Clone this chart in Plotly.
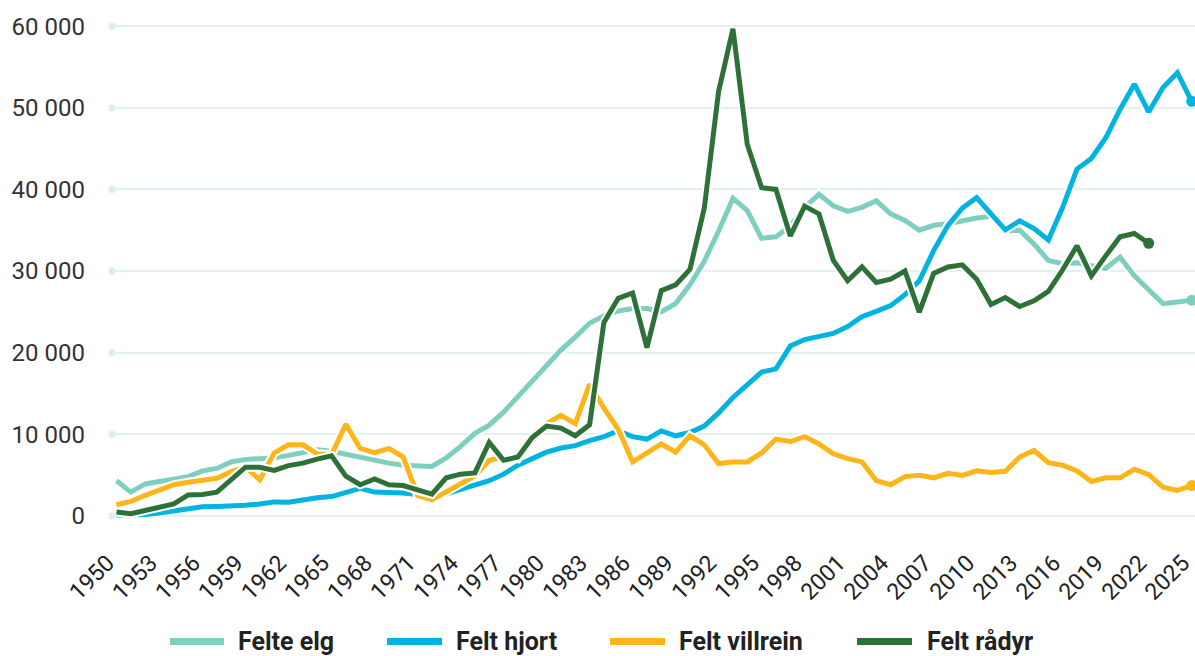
import plotly.graph_objects as go

years = list(range(1950, 2026))
years_radyr = list(range(1950, 2023))

elg = [4300, 2900, 3900, 4200, 4500, 4800, 5500, 5800, 6600, 6900,
       7000, 7100, 7400, 7800, 8100, 7900, 7500, 7100, 6700, 6450,
       6200, 6050, 6050, 7100, 8500, 10100, 11100, 12700, 14600, 16500,
       18400, 20300, 21900, 23600, 24500, 25100, 25400, 25400, 25000, 26000,
       28300, 31200, 34900, 38900, 37400, 34000, 34200, 35500, 37800, 39400,
       38000, 37300, 37800, 38600, 37000, 36200, 35000, 35600, 35800, 36200,
       36500, 36700, 34900, 35000, 33300, 31300, 30900, 31000, 30600, 30300,
       31700, 29400, 27700, 26000, 26200, 26400]

hjort = [100, 100, 150, 350, 650, 950, 1100, 1150, 1150, 1300,
         1450, 1700, 1650, 1950, 2200, 2350, 2900, 3350, 2900, 2900,
         2800, 2600, 2300, 2700, 3200, 3700, 4300, 5100, 6200, 7000,
         7800, 8300, 8600, 9200, 9700, 10400, 9700, 9400, 10400, 9800,
         10200, 11000, 12600, 14500, 16100, 17600, 18000, 20800, 21600, 21950,
         22350, 23200, 24400, 25050, 25750, 27100, 28800, 32500, 35600, 37700,
         39000, 37000, 35050, 36150, 35200, 33800, 37800, 42500, 43800, 46300,
         49800, 52900, 49500, 52500, 54300, 50800]

villrein = [1350, 1750, 2500, 3100, 3800, 4100, 4300, 4600, 5400, 6000,
            4400, 7700, 8700, 8700, 7600, 7500, 11200, 8250, 7750, 8250,
            7200, 2500, 1950, 2900, 3800, 4900, 6800, 7200, 7000, 9200,
            11300, 12300, 11300, 16100, 13200, 10600, 6600, 7700, 8800, 7800,
            9800, 8700, 6400, 6600, 6600, 7700, 9400, 9100, 9700, 8800,
            7600, 7000, 6600, 4300, 3800, 4800, 4950, 4650, 5200, 4950,
            5500, 5300, 5450, 7200, 8000, 6500, 6200, 5500, 4200, 4650,
            4650, 5700, 5050, 3500, 3100, 3700]

radyr = [450, 250, 650, 1050, 1450, 2550, 2600, 2900, 4500, 5950,
         5950, 5550, 6150, 6450, 6950, 7350, 4850, 3800, 4500, 3800,
         3700, 3100, 2650, 4650, 5100, 5250, 9000, 6800, 7200, 9600,
         11000, 10750, 9800, 11150, 23700, 26650, 27300, 20600, 27600, 28300,
         30200, 37700, 52000, 59700, 45500, 40200, 40000, 34300, 37950, 37000,
         31300, 28800, 30500, 28600, 29000, 30000, 24950, 29700, 30500, 30750,
         29000, 25900, 26750, 25650, 26350, 27500, 30150, 33100, 29400, 31850,
         34200, 34600, 33400]

series_names = ["Felte elg", "Felt hjort", "Felt villrein", "Felt rådyr"]
series_colors = ["#7fcfbf", "#00b3e1", "#fdb51a", "#2d7139"]
series_x = [years, years, years, years_radyr]
series_y = [elg, hjort, villrein, radyr]

y_tickvals = [0, 10000, 20000, 30000, 40000, 50000, 60000]
y_ticktext = ["0", "10 000", "20 000", "30 000", "40 000", "50 000", "60 000"]
x_tickvals = list(range(1950, 2026, 3))
x_ticktext = [str(v) for v in x_tickvals]

W, H = 1195, 656
L, R = 112, 0
T, B = 13.77, 128.47
grid_color = "#e1f2ee"
FONT = "Roboto, 'Open Sans', sans-serif"

fig = go.Figure()
for name, col, xs, ys in zip(series_names, series_colors, series_x, series_y):
    fig.add_trace(go.Scatter(x=xs, y=ys, mode="lines",
                             line=dict(color="white", width=9),
                             hoverinfo="skip", showlegend=False))
    fig.add_trace(go.Scatter(x=xs, y=ys, mode="lines", name=name,
                             line=dict(color=col, width=5),
                             showlegend=False))
    fig.add_trace(go.Scatter(x=[xs[-1]], y=[ys[-1]], mode="markers",
                             marker=dict(color=col, size=11),
                             hoverinfo="skip", showlegend=False))

# gridline start dots
shapes = []
for v in y_tickvals:
    shapes.append(dict(type="circle", xref="paper", yref="y",
                       xsizemode="pixel", ysizemode="pixel",
                       xanchor=0, yanchor=v, x0=-3.5, x1=3.5, y0=-3.5, y1=3.5,
                       fillcolor="#d8eee8", line=dict(width=0), layer="below"))

# manual legend
plot_w = W - L - R
plot_h = H - T - B
def px_x(px):
    return (px - L) / plot_w
def px_y(py):
    return (H - B - py) / plot_h

legend_line_x = [(170, 224), (387, 442), (610, 665), (857, 912)]
legend_text_x = [236, 454, 677, 925]
ly = 641
annotations = []
for (x0, x1), tx, name, col in zip(legend_line_x, legend_text_x, series_names, series_colors):
    shapes.append(dict(type="line", xref="paper", yref="paper",
                       x0=px_x(x0), x1=px_x(x1), y0=px_y(ly), y1=px_y(ly),
                       line=dict(color=col, width=7)))
    annotations.append(dict(xref="paper", yref="paper", x=px_x(tx), y=px_y(ly),
                            xanchor="left", yanchor="middle", showarrow=False,
                            text="<b>" + name + "</b>",
                            font=dict(family=FONT, size=25, color="#222222")))

fig.update_layout(
    width=W, height=H,
    margin=dict(l=L, r=R, t=T, b=B, pad=0, autoexpand=False),
    paper_bgcolor="white", plot_bgcolor="white",
    showlegend=False,
    shapes=shapes, annotations=annotations,
    xaxis=dict(range=[1949.686, 2025.23], tickvals=x_tickvals, ticktext=x_ticktext,
               tickangle=-45, showgrid=False, zeroline=False, showline=False,
               ticks="", ticklabelstandoff=16, ticklabelshift=-9,
               ticklabeloverflow="allow", automargin=False,
               tickfont=dict(family=FONT, size=23, color="#222222")),
    yaxis=dict(range=[-1500, 61500], tickvals=y_tickvals, ticktext=y_ticktext,
               showgrid=True, gridcolor=grid_color, gridwidth=2,
               zeroline=False, showline=False, ticks="", ticklabelstandoff=26,
               automargin=False,
               tickfont=dict(family=FONT, size=24, color="#333333")),
)

fig.write_html("out.html", config={"displayModeBar": False},
               post_script="document.body.style.margin='0';document.body.style.overflow='hidden';")
